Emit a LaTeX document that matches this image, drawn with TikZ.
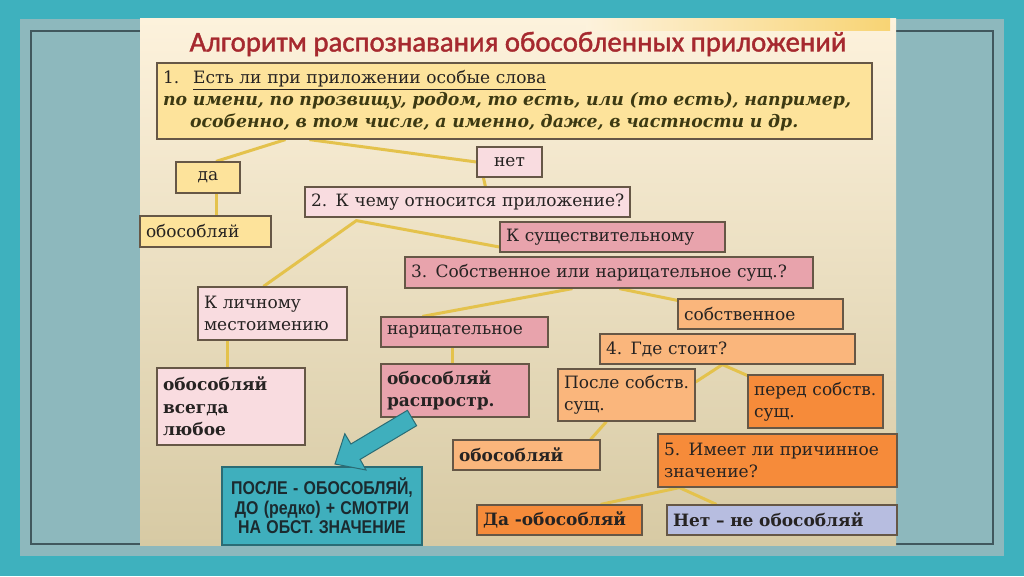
\documentclass[tikz,border=0pt]{standalone}
\usepackage{fontspec}
\usepackage{graphicx}
\setmainfont{DejaVu Serif}
\newfontfamily\titlefont[FakeBold=1.4]{Carlito}
\newfontfamily\tealfont{Liberation Sans}
\usetikzlibrary{calc}
\pgfdeclarelayer{back}\pgfdeclarelayer{conn}
\pgfsetlayers{back,conn,main}
\definecolor{outerc}{HTML}{3EB1BE}
\definecolor{panelc}{HTML}{8DB8BD}
\definecolor{panelline}{HTML}{41585E}
\definecolor{bgtop}{HTML}{FDF2DC}
\definecolor{bgmid}{HTML}{F2E6C6}
\definecolor{bgbot}{HTML}{D7CAA4}
\definecolor{stripec}{HTML}{F8D474}
\definecolor{yel}{HTML}{FDE39B}
\definecolor{lpink}{HTML}{F9DCE0}
\definecolor{pink}{HTML}{E8A3AC}
\definecolor{lorange}{HTML}{FAB67C}
\definecolor{orange}{HTML}{F68B3A}
\definecolor{lav}{HTML}{B7BDE0}
\definecolor{tealc}{HTML}{3FAFBD}
\definecolor{tealb}{HTML}{2A6C75}
\definecolor{tealtxt}{HTML}{1B2A2F}
\definecolor{connc}{HTML}{E4C24C}
\definecolor{bord}{HTML}{665746}
\definecolor{txt}{HTML}{262322}
\definecolor{olive}{HTML}{3C3912}
\definecolor{titlec}{HTML}{A6292F}
\newcommand{\drawbox}[7]{%
  \pgfmathsetmacro\bxw{#4-#2}\pgfmathsetmacro\bxh{#5-#3}\pgfmathsetmacro\bxt{#4-#2-12}%
  \node[bx, minimum width=\bxw pt, minimum height=\bxh pt, text width=\bxt pt, align=left, #6] (#1) at ({(#2+#4)/2},{(#3+#5)/2}) {#7};}
\begin{document}
\begin{tikzpicture}[x=1pt,y=-1pt,
  bx/.style={draw=bord, line width=1.2pt, inner xsep=6pt, inner ysep=2pt, font=\fontsize{17}{22}\selectfont, text=txt},
  bold/.style={font=\fontsize{17}{22.5}\selectfont\bfseries},
  conn/.style={draw=connc, line width=3pt},
  tarrow/.style={fill=tealc, draw=tealb, line width=1pt, line join=miter}]
\useasboundingbox (0,0) rectangle (1024,576);
\begin{pgfonlayer}{back}
  \fill[outerc] (0,0) rectangle (1024,576);
  \fill[panelc] (20,19) rectangle (1004,556);
  \draw[panelline, line width=1.2pt] (31,31) rectangle (993,544);
  \shade[top color=bgtop, middle color=bgmid, bottom color=bgbot] (140,18) rectangle (896,545);
  \shade[left color=bgtop, right color=stripec] (586,18) rectangle (890,30);
\end{pgfonlayer}

\node[font=\titlefont\fontsize{28.8}{31}\selectfont, text=titlec] (title) at (518,44) {Алгоритм распознавания обособленных приложений};

\drawbox{b1}{157}{63}{872}{139}{fill=yel, inner ysep=1pt}{%
  1.\hspace{14pt}\underline{Есть ли при приложении особые слова}\\
  {\color{olive}\fontsize{17.3}{22}\selectfont\bfseries\itshape по имени, по прозвищу, родом, то есть, или (то есть), например,}\\
  \hspace*{27pt}{\color{olive}\fontsize{17.3}{22}\selectfont\bfseries\itshape особенно, в том числе, а именно, даже, в частности и др.}}
\drawbox{da}{176}{162}{240}{193}{fill=yel, align=center}{да}
\drawbox{obos1}{140}{216}{271}{247}{fill=yel}{обособляй}
\drawbox{net}{477}{147}{542}{177}{fill=lpink, align=center}{нет}
\drawbox{b2}{305}{187}{630}{217}{fill=lpink}{2. К~чему~относится~приложение?}
\drawbox{ksush}{500}{222}{725}{252}{fill=pink}{К~существительному}
\drawbox{b3}{405}{257}{813}{288}{fill=pink}{3. Собственное~или~нарицательное~сущ.?}
\drawbox{klich}{198}{287}{347}{340}{fill=lpink}{К~личному\\местоимению}
\drawbox{narits}{381}{317}{548}{347}{fill=pink}{нарицательное}
\drawbox{sobstv}{678}{299}{843}{329}{fill=lorange}{собственное}
\drawbox{b4}{600}{334}{855}{364}{fill=lorange}{4. Где~стоит?}
\drawbox{obvs}{157}{368}{305}{445}{fill=lpink, bold}{обособляй\\всегда\\любое}
\drawbox{obraspr}{381}{364}{529}{417}{fill=pink, bold}{обособляй\\распростр.}
\drawbox{posle}{558}{369}{695}{421}{fill=lorange}{После~собств.\\сущ.}
\drawbox{pered}{748}{375}{883}{428}{fill=orange}{перед~собств.\\сущ.}
\drawbox{obos2}{453}{440}{600}{470}{fill=lorange, bold}{обособляй}
\drawbox{b5}{658}{434}{897}{487}{fill=orange}{5. Имеет~ли~причинное\\значение?}
\drawbox{dao}{477}{505}{642}{535}{fill=orange, bold}{Да -обособляй}
\drawbox{neto}{667}{505}{897}{535}{fill=lav, bold}{Нет~–~не~обособляй}
\drawbox{teal}{222}{467}{422}{545}{fill=tealc, draw=tealb, align=center, text=tealtxt,
  font=\tealfont\bfseries\fontsize{18.5}{19.5}\selectfont}{%
  \scalebox{0.86}[1]{ПОСЛЕ - ОБОСОБЛЯЙ,}\\
  \scalebox{0.86}[1]{ДО (редко) + СМОТРИ}\\
  \scalebox{0.86}[1]{НА ОБСТ. ЗНАЧЕНИЕ}}

% teal block arrow from obraspr to teal box
\draw[tarrow] (407.4,410.3) -- (350.9,444) -- (344.8,433.7) -- (335,464) -- (366,470) -- (360.1,459.4) -- (416.6,425.7) -- cycle;

\begin{pgfonlayer}{conn}
  \draw[conn] ([xshift=129pt]b1.south west) -- ([xshift=8pt]da.north);
  \draw[conn] ([xshift=153pt]b1.south west) -- (net.west);
  \draw[conn] ([xshift=8pt]da.south) -- ([xshift=8pt]da.south |- obos1.north);
  \draw[conn] ([xshift=7pt]net.south west) -- ([xshift=9pt]net.south west |- b2.north);
  \coordinate (j2) at ([xshift=52pt,yshift=-3pt]b2.south west);
  \draw[conn] ([yshift=-10pt]ksush.west) -- (j2) -- ([xshift=-9pt]klich.north);
  \draw[conn] ([xshift=168pt]b3.south west) -- ([xshift=42pt]narits.north west);
  \draw[conn] ([xshift=215pt]b3.south west) -- ([yshift=-2pt]sobstv.north west);
  \draw[conn] ([xshift=72pt]narits.south west) -- ([xshift=72pt]narits.south west |- obraspr.north);
  \draw[conn] ([xshift=30pt]klich.south west) -- ([xshift=30pt]klich.south west |- obvs.north);
  \coordinate (j4) at ([xshift=123pt]b4.south west);
  \draw[conn] ([yshift=13pt]posle.east) -- (j4) -- ([xshift=2pt,yshift=-2pt]pered.north west);
  \draw[conn] ([xshift=49pt]posle.south west) -- ([xshift=-10pt]obos2.north east);
  \coordinate (j5) at ([xshift=22pt]b5.south west);
  \draw[conn] ([xshift=-42pt]dao.north east) -- (j5) -- ([xshift=50pt]neto.north west);
\end{pgfonlayer}
\end{tikzpicture}
\end{document}
